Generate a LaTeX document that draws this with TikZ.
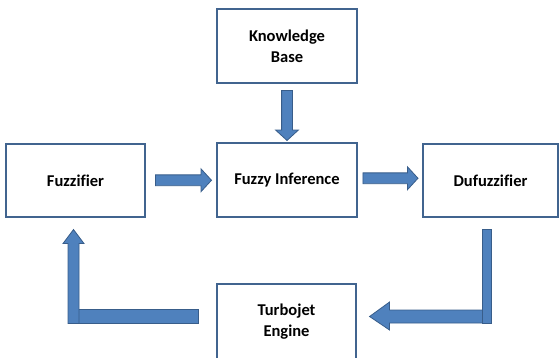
\documentclass[tikz,border=0pt]{standalone}
\usepackage{fontspec}
\setmainfont[Ligatures=NoCommon]{Carlito}
\usetikzlibrary{calc,shapes.arrows}
\definecolor{boxline}{HTML}{41648F}
\definecolor{arrfill}{HTML}{4F81BD}
\definecolor{arrline}{HTML}{385D8A}
\begin{document}
\begin{tikzpicture}[x=1pt,y=-1pt,
    block/.style={draw=boxline,line width=1.1pt,fill=white,align=center,
        inner sep=0pt,font=\fontsize{16.5}{21}\selectfont\bfseries},
    blockfill/.style={draw=arrline,line width=0.8pt,fill=arrfill},
    fatarrow/.style={blockfill,single arrow,inner xsep=0pt,inner ysep=5pt,
        single arrow head extend=6pt,single arrow tip angle=95}]

            \clip (0,0) rectangle (560,357);
            \node[block,minimum width=139pt,minimum height=73pt] (fuzz) at (75.5,180.5) {Fuzzifier};
            \node[block,minimum width=140pt,minimum height=74pt] (know) at (287,46) {Knowledge\\Base};
            \node[block,minimum width=140pt,minimum height=74pt] (infer) at (287,180) {Fuzzy Inference};
            \node[block,minimum width=135pt,minimum height=73pt] (defuzz) at (490.5,180.5) {Dufuzzifier};
            \node[block,minimum width=139pt,minimum height=76pt] (turbo) at (286.5,322) {Turbojet\\Engine};

            \node[fatarrow,minimum height=56pt] (a1) at ($(fuzz.east)!0.5!(infer.west)$) {};
            \node[fatarrow,minimum height=55pt] (a2) at ($(infer.east)!0.5!(defuzz.west)+(-2,-2)$) {};
            \node[fatarrow,minimum height=50pt,rotate=-90] (a3) at ($(know.south)!0.5!(infer.north)$) {};

            % dufuzzifier back to engine
            \coordinate (rtop) at ($(defuzz.south)+(-8.5,12)$);
            \coordinate (rtip) at ($(turbo.east)+(13,-5.5)$);
            \draw[blockfill] (rtip) -- ++(20,-14.5) -- ++(0,8) -- ++(102,0) -- ++(0,13)
                -- ++(-102,0) -- ++(0,7) -- cycle;
            \draw[blockfill] (rtop) rectangle ++(9,94);

            % engine back to fuzzifier
            \coordinate (ltip) at ($(fuzz.south)+(-2,12)$);
            \draw[blockfill] ($(turbo.west)+(-18,-13)$) rectangle ($(ltip)+(-5.5,94)$);
            \draw[blockfill] (ltip) -- ++(10.5,14) -- ++(-5,0) -- ++(0,80) -- ++(-11,0)
                -- ++(0,-80) -- ++(-5,0) -- cycle;
            \end{tikzpicture}
\end{document}
